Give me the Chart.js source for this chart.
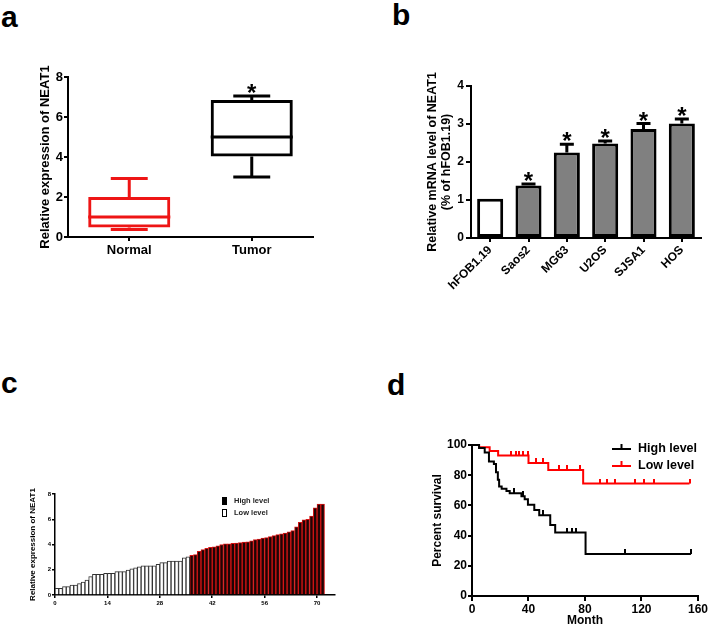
<!DOCTYPE html>
<html>
<head>
<meta charset="utf-8">
<script src="https://cdn.jsdelivr.net/npm/chart.js@4.4.1/dist/chart.umd.min.js"></script>
<style>
    body { margin: 0; background: #fff; }
    #page { position: relative; width: 709px; height: 628px; overflow: hidden; font-family: 'Liberation Sans', Arial, sans-serif; }
    canvas { position: absolute; }
    .tag { position: absolute; font-weight: bold; font-size: 30px; line-height: 30px; color: #000; }
</style>
</head>
<body>
<div id="page">
    <div class="tag" style="left:1px;top:2px">a</div>
    <div class="tag" style="left:392px;top:0px">b</div>
    <div class="tag" style="left:1px;top:368px">c</div>
    <div class="tag" style="left:387px;top:370px">d</div>
    <canvas id="boxChart" width="354" height="270" style="left:0;top:40px"></canvas>
    <canvas id="cellChart" width="355" height="270" style="left:354px;top:40px"></canvas>
    <canvas id="patientChart" width="354" height="158" style="left:0;top:470px"></canvas>
    <canvas id="survivalChart" width="355" height="208" style="left:354px;top:420px"></canvas>
</div>
<script>
// a - box plot
const boxGroups = ['Normal', 'Tumor'];
const boxMin = [0.37, 3.0];
const boxQ1 = [0.47, 4.03];
const boxMedian = [1.0, 5.0];
const boxQ3 = [2.0, 6.85];
const boxMax = [2.93, 7.05];
const boxStars = ['', '*'];

// b - cell lines
const cellLines = ['hFOB1.19', 'Saos2', 'MG63', 'U2OS', 'SJSA1', 'HOS'];
const cellMeans = [1.03, 1.38, 2.25, 2.49, 2.87, 3.01];
const cellErrors = [0, 0.04, 0.22, 0.06, 0.14, 0.12];
const cellStars = ['', '*', '*', '*', '*', '*'];

// c - patients sorted by expression
const lowLevel = [0.53, 0.53, 0.66, 0.66, 0.79, 0.79, 0.9, 1.03, 1.19, 1.45, 1.64, 1.64,
    1.64, 1.72, 1.72, 1.72, 1.85, 1.85, 1.85, 1.98, 2.08, 2.16, 2.24, 2.32,
    2.32, 2.32, 2.32, 2.43, 2.56, 2.56, 2.69, 2.69, 2.69, 2.69, 2.95, 3.03];
const highLevel = [3.15, 3.2, 3.45, 3.6, 3.7, 3.78, 3.82, 3.9, 4.0, 4.05, 4.05, 4.1,
    4.12, 4.15, 4.2, 4.22, 4.3, 4.38, 4.42, 4.5, 4.55, 4.62, 4.7, 4.78,
    4.85, 4.9, 5.0, 5.1, 5.4, 5.75, 5.95, 6.0, 6.25, 6.9, 7.2, 7.2];
const patientTicks = [0, 14, 28, 42, 56, 70];

// d - survival
const highMonths = [0, 5, 9, 12, 15.5, 17, 18.3, 19.2, 21, 24.4, 26.7, 35, 37.3, 39.6, 44.1, 47.6, 55.4, 58.9, 80.4, 155];
const highSurvival = [100, 98, 95, 89, 87.5, 82, 77, 72.5, 71, 69.5, 68, 66, 64, 60.5, 57, 53.5, 47, 42, 27.8, 27.8];
const highCensorMonths = [30, 36, 50, 67, 70.5, 73.6, 108.6, 155];
const highCensorSurvival = [68, 66, 53.5, 42, 42, 42, 27.8, 27.8];
const lowMonths = [0, 5, 12.5, 18.5, 40, 54, 78.7, 154];
const lowSurvival = [100, 98.5, 96, 93, 88, 83.5, 74.5, 74.5];
const lowCensorMonths = [27.8, 30.8, 33.6, 36.4, 39.5, 45.3, 50, 61.6, 67.5, 76.8, 90.4, 95.5, 100.9, 115.4, 121.9, 128.9, 154];
const lowCensorSurvival = [93, 93, 93, 93, 93, 88, 88, 83.5, 83.5, 83.5, 74.5, 74.5, 74.5, 74.5, 74.5, 74.5, 74.5];

Chart.defaults.font.family = "'Liberation Sans', Arial, sans-serif";
Chart.defaults.color = '#000';

const RED = '#ee1515';

function axisGrid(len, width) {
    return {display: true, drawOnChartArea: false, drawTicks: true, tickLength: len, color: '#000', lineWidth: width, offset: false};
}

function axisBorder(width) {
    return {display: true, color: '#000', width: width};
}

function bold(size) {
    return {size: size, weight: 'bold'};
}

const baseOptions = {
    responsive: false,
    animation: false,
    plugins: {legend: {display: false}, tooltip: {enabled: false}}
};

// whiskers, medians and star for panel a
const boxExtras = {
    id: 'boxExtras',
    afterDatasetsDraw(chart) {
        const ctx = chart.ctx;
        const x = chart.scales.x;
        const y = chart.scales.y;
        const meta = chart.getDatasetMeta(0);
        const colors = chart.data.datasets[0].borderColor;
        ctx.save();
        ctx.lineWidth = 3;
        boxGroups.forEach((g, i) => {
            const cx = x.getPixelForValue(i);
            const w = meta.data[i].width;
            const cap = w * 0.45;
            ctx.strokeStyle = colors[i];
            ctx.beginPath();
            ctx.moveTo(cx, y.getPixelForValue(boxQ3[i]));
            ctx.lineTo(cx, y.getPixelForValue(boxMax[i]));
            ctx.moveTo(cx - cap / 2, y.getPixelForValue(boxMax[i]));
            ctx.lineTo(cx + cap / 2, y.getPixelForValue(boxMax[i]));
            ctx.moveTo(cx, y.getPixelForValue(boxQ1[i]));
            ctx.lineTo(cx, y.getPixelForValue(boxMin[i]));
            ctx.moveTo(cx - cap / 2, y.getPixelForValue(boxMin[i]));
            ctx.lineTo(cx + cap / 2, y.getPixelForValue(boxMin[i]));
            ctx.moveTo(cx - w / 2, y.getPixelForValue(boxMedian[i]));
            ctx.lineTo(cx + w / 2, y.getPixelForValue(boxMedian[i]));
            ctx.stroke();
            if (boxStars[i]) {
                ctx.fillStyle = '#000';
                ctx.font = "bold 24px 'Liberation Sans', Arial, sans-serif";
                ctx.textAlign = 'center';
                ctx.textBaseline = 'alphabetic';
                ctx.fillText(boxStars[i], cx, y.getPixelForValue(boxMax[i]) + 5);
            }
        });
        ctx.restore();
    }
};

new Chart(document.getElementById('boxChart'), {
    type: 'bar',
    data: {
        labels: boxGroups,
        datasets: [{
            data: boxGroups.map((g, i) => [boxQ1[i], boxQ3[i]]),
            backgroundColor: 'rgba(0,0,0,0)',
            borderColor: [RED, '#000'],
            borderWidth: 3,
            borderSkipped: false,
            barPercentage: 0.67,
            categoryPercentage: 1
        }]
    },
    options: {
        ...baseOptions,
        layout: {autoPadding: false, padding: {left: 38, top: 37, right: 41, bottom: 43}},
        scales: {
            x: {
                afterFit: s => { s.height = 30; },
                grid: axisGrid(4, 2),
                border: axisBorder(2),
                ticks: {font: bold(13), padding: 2}
            },
            y: {
                min: 0, max: 8,
                afterFit: s => { s.width = 30; },
                grid: axisGrid(4, 2),
                border: axisBorder(2),
                ticks: {stepSize: 2, font: bold(13), padding: 1},
                title: {display: true, text: 'Relative expression of NEAT1', font: bold(13), padding: 0}
            }
        }
    },
    plugins: [boxExtras]
});

// error bars and stars for panel b
const cellExtras = {
    id: 'cellExtras',
    afterDatasetsDraw(chart) {
        const ctx = chart.ctx;
        const x = chart.scales.x;
        const y = chart.scales.y;
        ctx.save();
        ctx.strokeStyle = '#000';
        ctx.fillStyle = '#000';
        ctx.lineWidth = 3;
        ctx.font = "bold 24px 'Liberation Sans', Arial, sans-serif";
        ctx.textAlign = 'center';
        ctx.textBaseline = 'alphabetic';
        cellLines.forEach((c, i) => {
            const cx = x.getPixelForValue(i);
            const top = y.getPixelForValue(cellMeans[i] + cellErrors[i]);
            if (cellErrors[i] > 0) {
                ctx.beginPath();
                ctx.moveTo(cx, y.getPixelForValue(cellMeans[i]));
                ctx.lineTo(cx, top);
                ctx.moveTo(cx - 7, top);
                ctx.lineTo(cx + 7, top);
                ctx.stroke();
            }
            if (cellStars[i]) {
                ctx.fillText(cellStars[i], cx, top + 5);
            }
        });
        ctx.restore();
    }
};

new Chart(document.getElementById('cellChart'), {
    type: 'bar',
    data: {
        labels: cellLines,
        datasets: [{
            data: cellMeans,
            backgroundColor: cellLines.map((c, i) => i === 0 ? '#fff' : '#808080'),
            borderColor: '#000',
            borderWidth: 3,
            borderSkipped: false,
            barPercentage: 0.68,
            categoryPercentage: 1
        }]
    },
    options: {
        ...baseOptions,
        layout: {autoPadding: false, padding: {left: 71, top: 46, right: 8, bottom: 12}},
        scales: {
            x: {
                afterFit: s => { s.height = 60; },
                grid: axisGrid(4, 2),
                border: axisBorder(2),
                ticks: {font: bold(12), padding: 1, minRotation: 45, maxRotation: 45}
            },
            y: {
                min: 0, max: 4,
                afterFit: s => { s.width = 46; },
                grid: axisGrid(5, 2),
                border: axisBorder(2),
                ticks: {stepSize: 1, font: bold(12), padding: 2},
                title: {
                    display: true,
                    text: ['Relative mRNA level of NEAT1', '(% of hFOB1.19)'],
                    font: {size: 12.5, weight: 'bold', lineHeight: 1.15},
                    padding: 0
                }
            }
        }
    },
    plugins: [cellExtras]
});

// legend for panel c
const patientLegend = {
    id: 'patientLegend',
    afterDraw(chart) {
        const ctx = chart.ctx;
        const area = chart.chartArea;
        ctx.save();
        ctx.font = "bold 7.5px 'Liberation Sans', Arial, sans-serif";
        ctx.textBaseline = 'middle';
        ctx.textAlign = 'left';
        const items = [chart.data.datasets[1], chart.data.datasets[0]];
        items.forEach((ds, k) => {
            const top = area.top + 3 + k * 12;
            ctx.fillStyle = ds.legendFill;
            ctx.strokeStyle = '#000';
            ctx.lineWidth = 1;
            ctx.fillRect(area.left + 167.5, top + 0.5, 4, 7);
            ctx.strokeRect(area.left + 167.5, top + 0.5, 4, 7);
            ctx.fillStyle = '#222';
            ctx.fillText(ds.label, area.left + 179, top + 4);
        });
        ctx.restore();
    }
};

new Chart(document.getElementById('patientChart'), {
    type: 'bar',
    data: {
        datasets: [{
            label: 'Low level',
            data: lowLevel.map((v, i) => ({x: i + 0.5, y: v})),
            backgroundColor: '#fff',
            borderColor: '#333',
            borderWidth: 1,
            legendFill: '#fff',
            barPercentage: 1,
            categoryPercentage: 1,
            grouped: false
        }, {
            label: 'High level',
            data: highLevel.map((v, i) => ({x: lowLevel.length + i + 0.5, y: v})),
            backgroundColor: '#1e0404',
            borderColor: '#d41414',
            borderWidth: 1,
            legendFill: '#000',
            barPercentage: 1,
            categoryPercentage: 1,
            grouped: false
        }]
    },
    options: {
        ...baseOptions,
        layout: {autoPadding: false, padding: {left: 28, top: 24, right: 19, bottom: 13}},
        scales: {
            x: {
                type: 'linear',
                min: 0, max: 74.8,
                offset: false,
                afterBuildTicks: s => { s.ticks = patientTicks.map(v => ({value: v})); },
                afterFit: s => { s.height = 20; },
                grid: axisGrid(3, 1.5),
                border: axisBorder(1.5),
                ticks: {font: bold(6), padding: 2}
            },
            y: {
                min: 0, max: 8,
                afterFit: s => { s.width = 27; },
                grid: axisGrid(3, 1.5),
                border: axisBorder(1.5),
                ticks: {stepSize: 2, font: bold(6), padding: 1},
                title: {display: true, text: 'Relative expression of NEAT1', font: bold(8), padding: 0}
            }
        }
    },
    plugins: [patientLegend]
});

// censor tick mark drawn as point image: sits on the line and points up
function censorMark(color) {
    const c = document.createElement('canvas');
    c.width = 2;
    c.height = 10;
    const ctx = c.getContext('2d');
    ctx.fillStyle = color;
    ctx.fillRect(0, 0, 2, 5);
    return c;
}

const survivalLegend = {
    id: 'survivalLegend',
    afterDraw(chart) {
        const ctx = chart.ctx;
        const area = chart.chartArea;
        ctx.save();
        ctx.font = "bold 12.5px 'Liberation Sans', Arial, sans-serif";
        ctx.textBaseline = 'middle';
        ctx.textAlign = 'left';
        [chart.data.datasets[0], chart.data.datasets[2]].forEach((ds, k) => {
            const yy = area.top + 4 + k * 17;
            const x0 = area.left + 140;
            ctx.strokeStyle = ds.borderColor;
            ctx.lineWidth = 2;
            ctx.beginPath();
            ctx.moveTo(x0, yy);
            ctx.lineTo(x0 + 19, yy);
            ctx.moveTo(x0 + 9.5, yy);
            ctx.lineTo(x0 + 9.5, yy - 5);
            ctx.stroke();
            ctx.fillStyle = '#000';
            ctx.fillText(ds.label, x0 + 26, yy);
        });
        ctx.restore();
    }
};

new Chart(document.getElementById('survivalChart'), {
    type: 'line',
    data: {
        datasets: [{
            label: 'High level',
            data: highMonths.map((m, i) => ({x: m, y: highSurvival[i]})),
            borderColor: '#000',
            borderWidth: 2,
            stepped: true,
            pointRadius: 0,
            clip: 4
        }, {
            label: 'High censored',
            data: highCensorMonths.map((m, i) => ({x: m, y: highCensorSurvival[i]})),
            showLine: false,
            pointStyle: censorMark('#000'),
            pointRadius: 3,
            clip: 6
        }, {
            label: 'Low level',
            data: lowMonths.map((m, i) => ({x: m, y: lowSurvival[i]})),
            borderColor: '#ff0000',
            borderWidth: 2,
            stepped: true,
            pointRadius: 0,
            clip: 4
        }, {
            label: 'Low censored',
            data: lowCensorMonths.map((m, i) => ({x: m, y: lowCensorSurvival[i]})),
            showLine: false,
            pointStyle: censorMark('#ff0000'),
            pointRadius: 3,
            clip: 6
        }]
    },
    options: {
        ...baseOptions,
        layout: {autoPadding: false, padding: {left: 76, top: 25, right: 9, bottom: 0}},
        scales: {
            x: {
                type: 'linear',
                min: 0, max: 160,
                afterFit: s => { s.height = 32; },
                grid: axisGrid(5, 2),
                border: axisBorder(2),
                ticks: {stepSize: 40, font: bold(12), padding: 1},
                title: {display: true, text: 'Month', font: bold(12), padding: 0}
            },
            y: {
                min: 0, max: 100,
                afterFit: s => { s.width = 42; },
                grid: axisGrid(4, 2),
                border: axisBorder(2),
                ticks: {stepSize: 20, font: bold(12), padding: 1},
                title: {display: true, text: 'Percent survival', font: bold(12), padding: 0}
            }
        }
    },
    plugins: [survivalLegend]
});
</script>
</body>
</html>
